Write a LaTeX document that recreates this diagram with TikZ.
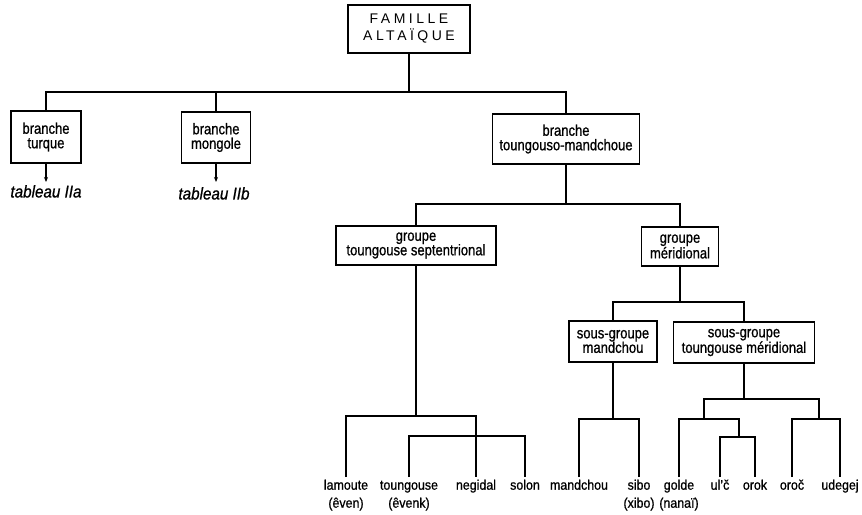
\documentclass[tikz,border=0pt]{standalone}
\usepackage{fontspec}
\setmainfont{Liberation Sans}[FakeStretch=0.84, FakeBold=0.8]
\newfontfamily\capsfont{Liberation Sans}[LetterSpace=25]
\newfontfamily\tabfont{Liberation Sans}[FakeStretch=0.9, FakeBold=0.8]
\newfontfamily\leaffont{Liberation Sans}[FakeStretch=0.9, FakeBold=0.8]
\usetikzlibrary{arrows.meta}
\newcommand\leafstrut{\rule{0pt}{12.5pt}}

\begin{document}
\begin{tikzpicture}[x=1pt,y=-1pt,
  box/.style={draw, line width=1.5pt, rectangle, align=center, inner sep=0pt,
    font=\fontsize{15.5}{14.5}\selectfont},
  leaf/.style={anchor=north, align=center, inner sep=0pt,
    font=\leaffont\fontsize{13.8}{18}\selectfont},
  tab/.style={anchor=north, inner sep=3pt, font=\tabfont\itshape\fontsize{16.9}{17}\selectfont},
  link/.style={line width=1.4pt},
  ptr/.style={-{Stealth[length=5pt,width=4pt]}, line width=1.1pt}
]
\useasboundingbox (0,0) rectangle (862,514);
\fill[white] (0,0) rectangle (862,514);

% root and branches
\node[box, minimum width=122pt, minimum height=48pt,
  font=\capsfont\fontsize{14}{17}\selectfont] (fam) at (409,29) {FAMILLE\\ALTAÏQUE};
\node[box, minimum width=70pt, minimum height=52pt] (turque) at (46,137) {branche\\turque};
\node[box, minimum width=69pt, minimum height=51pt] (mongole) at (216,137.5) {branche\\mongole};
\node[box, minimum width=147pt, minimum height=50pt] (tm) at (566,139) {branche\\toungouso-mandchoue};

\node[tab] (tabA) at (46,182) {tableau IIa};
\node[tab, inner ysep=5pt] (tabB) at (214,182) {tableau IIb};

% groups and sub-groups
\node[box, minimum width=160pt, minimum height=39pt] (sept) at (416,245.5) {groupe\\toungouse septentrional};
\node[box, minimum width=77pt, minimum height=39pt] (merid) at (680,246.5) {groupe\\méridional};
\node[box, minimum width=88pt, minimum height=41pt] (sgm) at (613,341.5) {sous-groupe\\mandchou};
\node[box, minimum width=141pt, minimum height=41pt] (sgtm) at (744,342.5) {sous-groupe\\toungouse méridional};

% languages
\node[leaf] (lam)   at (346,477) {\leafstrut lamoute\\(êven)};
\node[leaf] (toung) at (409,477) {\leafstrut toungouse\\(êvenk)};
\node[leaf] (neg)   at (476,477) {\leafstrut negidal};
\node[leaf] (sol)   at (525,477) {\leafstrut solon};
\node[leaf] (mand)  at (579,477) {\leafstrut mandchou};
\node[leaf] (sib)   at (639,477) {\leafstrut sibo\\(xibo)};
\node[leaf] (gol)   at (679,477) {\leafstrut golde\\(nanaï)};
\node[leaf] (ulc)   at (720,477) {\leafstrut ul’č};
\node[leaf] (oro)   at (755,477) {\leafstrut orok};
\node[leaf] (oroc)  at (792,477) {\leafstrut oroč};
\node[leaf] (ude)   at (840,477) {\leafstrut udegej};

% junctions
\coordinate (j0) at (409,92);
\coordinate (j1) at (566,204);
\coordinate (j2) at (680,302);
\coordinate (j3) at (416,416);
\coordinate (j3b) at (467,436);
\coordinate (j4) at (613,419);
\coordinate (j5) at (744,399);
\coordinate (j6) at (704,419);
\coordinate (j7) at (819,419);
\coordinate (j8) at (739,437);

% tree lines
\draw[link] (fam.south) -- (j0);
\draw[link] (turque.north) |- (j0) -| (tm.north);
\draw[link] (mongole.north) -- (mongole.north |- j0);

\draw[ptr] (turque.south) -- (tabA.north);
\draw[ptr] (mongole.south) -- (mongole.south |- tabB.north);

\draw[link] (tm.south) -- (j1);
\draw[link] (sept.north) |- (j1) -| (merid.north);

\draw[link] (merid.south) -- (j2);
\draw[link] (sgm.north) |- (j2) -| (sgtm.north);

\draw[link] (sept.south) -- (j3);
\draw[link] (lam.north) |- (j3) -| (neg.north);
\draw[link] (toung.north) |- (j3b) -| (sol.north);

\draw[link] (sgm.south) -- (j4);
\draw[link] (mand.north) |- (j4) -| (sib.north);

\draw[link] (sgtm.south) -- (j5);
\draw[link] (j6) |- (j5) -| (j7);
\draw[link] (gol.north) |- (j6) -| (j8);
\draw[link] (ulc.north) |- (j8) -| (oro.north);
\draw[link] (oroc.north) |- (j7) -| (ude.north);
\end{tikzpicture}
\end{document}
